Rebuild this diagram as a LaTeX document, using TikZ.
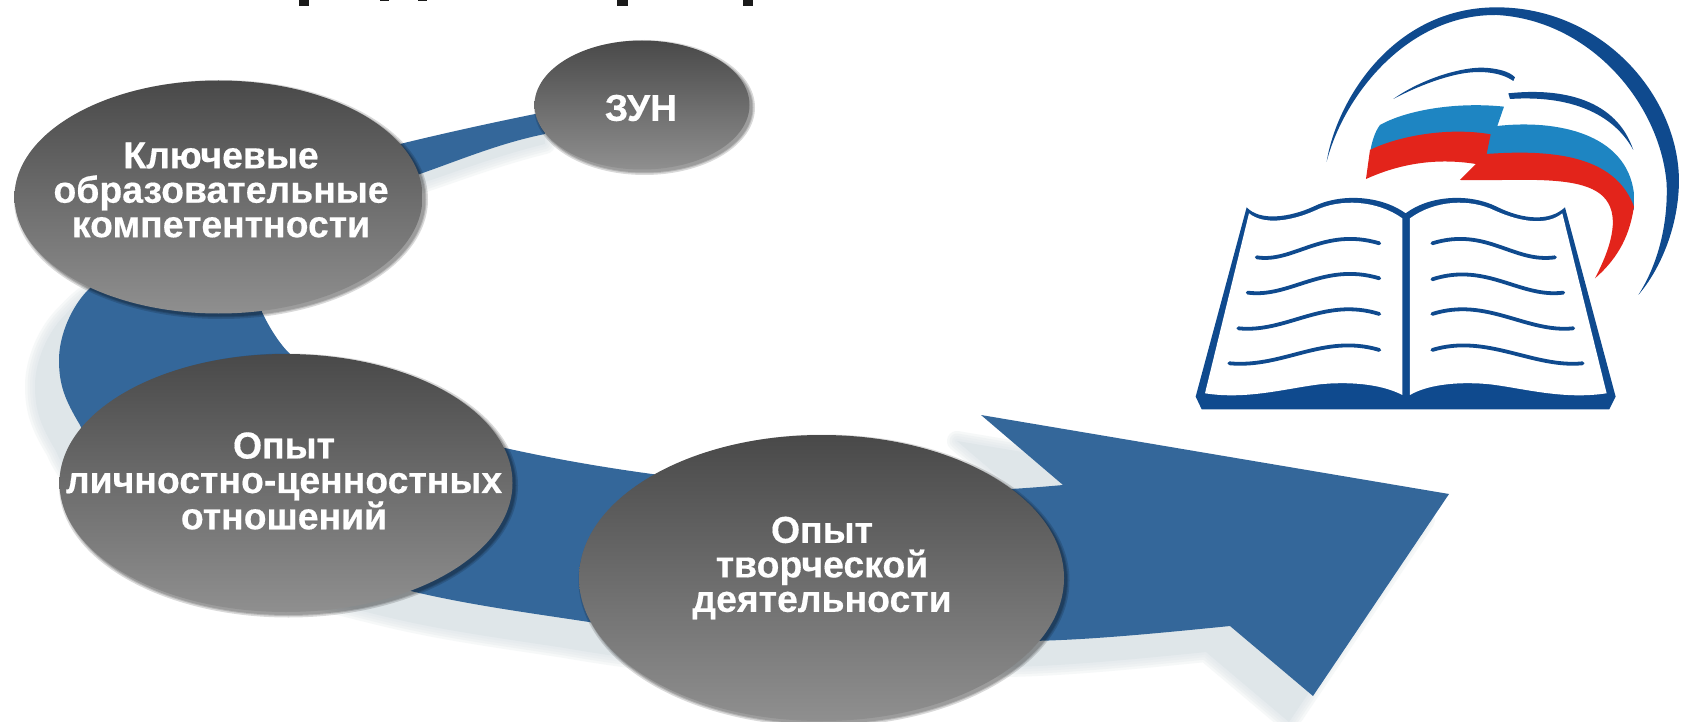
\documentclass[tikz,border=0pt]{standalone}
\usepackage{fontspec}
\setmainfont[BoldFeatures={FakeBold=0.4}]{Liberation Sans}
\usetikzlibrary{shapes.geometric}
\definecolor{arrowblue}{HTML}{34679A}
\definecolor{arrowshade}{HTML}{DFE6E9}
\definecolor{logoblue}{HTML}{0F4A8E}
\definecolor{flagblue}{HTML}{1E85C2}
\definecolor{flagred}{HTML}{E3241B}
\definecolor{ovaltop}{HTML}{494949}
\definecolor{ovalbot}{HTML}{8F8F8F}
\definecolor{titleink}{HTML}{1A1A1A}
\tikzset{
  oval/.style={ellipse,inner sep=0pt,outer sep=0pt,top color=ovaltop,bottom color=ovalbot,draw=none},
  ovalshade/.style={ellipse,inner sep=0pt,outer sep=0pt,fill=black,fill opacity=.15,draw=none},
  ovaltext/.style={text=white,align=center,inner sep=0pt,font=\bfseries\fontsize{37.4}{34.5}\selectfont},
  logoline/.style={draw=logoblue,line width=3.8pt,line cap=round},
  logofill/.style={fill=logoblue,draw=none},
  stub/.style={fill=titleink,draw=none}
}
\def\arrowmid{(262,312)
  .. controls (268,325) and (278,342) .. (289,353)
  .. controls (340,400) and (430,432) .. (505,448)
  .. controls (640,478) and (850,505) .. (1063,485)
  -- (981,415) -- (1449,494) -- (1313,696) -- (1230,626)
  .. controls (1160,633) and (1090,640) .. (1030,641)
  .. controls (850,650) and (720,645) .. (589,622)
  .. controls (530,613) and (470,605) .. (415,592)
  .. controls (280,560) and (115,510) .. (80,425)
  .. controls (65,400) and (59,385) .. (59,360)
  .. controls (59,335) and (72,305) .. (90,288)}
\def\arrowpath{(545,112) .. controls (495,122) and (445,133) .. (400,144)
  .. controls (330,165) and (245,225) .. \arrowmid
  .. controls (150,220) and (290,205) .. (417,175)
  .. controls (460,160) and (500,143) .. (545,134) -- cycle}
% the shadow narrows along the thin tail of the arrow
\def\shadowpath{(569,100) .. controls (495,122) and (445,133) .. (400,144)
  .. controls (330,165) and (245,225) .. \arrowmid
  .. controls (150,220) and (300,195) .. (437,160)
  .. controls (480,146) and (520,130) .. (569,118) -- cycle}
% draws the soft shadow and the gradient oval: #1 name, #2 x, #3 y, #4 rx, #5 ry
\newcommand{\ovalnode}[5]{%
  \foreach \g in {6,3,1}{
    \node[ovalshade,minimum width=2*#4+\g*1pt,minimum height=2*#5+\g*1pt] at (#2+2.5,#3+2.5) {};
  }
  \node[oval,minimum width=2*#4*1pt,minimum height=2*#5*1pt] (#1) at (#2,#3) {};
}
\begin{document}
\begin{tikzpicture}[x=1pt,y=-1pt]
\path[use as bounding box,fill=white] (0,0) rectangle (1687,722);

% cut-off title at the top edge
\fill[stub] (299,0) rectangle (309,6);
\fill[stub] (380,0) rectangle (389,1.5);
\fill[stub] (418,0) rectangle (427,1.5);
\fill[stub] (617,0) rectangle (628,6);
\fill[stub] (743,0) rectangle (753,6);

% arrow shadow
\begin{scope}[shift={(-24,26)}]
  \foreach \w in {20,15,10,5}{
    \draw[arrowshade,line width=\w pt,line join=round,opacity=.28] \shadowpath;
  }
  \fill[arrowshade] \shadowpath;
\end{scope}
% arrow
\fill[arrowblue] \arrowpath;

% ovals
\ovalnode{zun}{642}{105}{107.5}{64.5}
\ovalnode{key}{218.5}{197}{204}{116.5}
\ovalnode{lich}{286}{483}{226.5}{129}
\ovalnode{tvor}{821.5}{578}{242.5}{143}
\node[ovaltext] (zunt) at (641,108) {ЗУН};
\node[ovaltext] (keyt) at (221,190) {Ключевые\\образовательные\\компетентности};
\node[ovaltext] (licht) at (284,481) {Опыт\\личностно-ценностных\\отношений};
\node[ovaltext] (tvort) at (822,568) {Опыт\\творческой\\деятельности};

% logo
\begin{scope}[shift={(1180,0)},x=.3333pt,y=-.3333pt]
  % outer crescent
  \fill[logoblue] (440,485) .. controls (470,300) and (640,22) .. (950,22)
    .. controls (1270,22) and (1495,290) .. (1497,540)
    .. controls (1497,680) and (1440,810) .. (1375,885)
    .. controls (1430,800) and (1465,680) .. (1460,550)
    .. controls (1440,310) and (1230,60) .. (950,45)
    .. controls (680,42) and (490,290) .. (440,485) -- cycle;
  % small streaks
  \fill[logoblue] (640,297) .. controls (720,240) and (830,205) .. (900,203)
    .. controls (950,203) and (990,215) .. (1005,232) -- (1000,243)
    .. controls (960,215) and (900,212) .. (850,220)
    .. controls (780,232) and (700,265) .. (640,297) -- cycle;
  \fill[logoblue] (985,280) .. controls (1150,262) and (1310,300) .. (1360,450)
    .. controls (1300,340) and (1170,285) .. (990,297) -- cycle;
  % flag
  \fill[flagblue] (570,460) .. controls (575,425) and (585,395) .. (600,375)
    .. controls (680,330) and (830,305) .. (972,320) -- (952,378)
    .. controls (1130,358) and (1340,400) .. (1362,580) -- (1362,630) -- (1200,500) -- (900,480) -- (700,440) -- cycle;
  \fill[flagred] (558,537) -- (570,450) .. controls (650,410) and (800,380) .. (932,403)
    -- (920,462) .. controls (1150,445) and (1310,480) .. (1362,620)
    .. controls (1350,700) and (1320,770) .. (1245,835)
    .. controls (1300,730) and (1320,640) .. (1270,590)
    .. controls (1200,520) and (1000,545) .. (840,540)
    -- (888,492) .. controls (750,470) and (640,500) .. (558,537) -- cycle;
  % book page outline and base
  \fill[logoblue] (200,622) .. controls (240,665) and (330,652) .. (400,620)
    .. controls (480,580) and (600,585) .. (677,640)
    .. controls (750,585) and (870,580) .. (950,620)
    .. controls (1030,660) and (1110,665) .. (1155,622)
    -- (1307,1190) -- (1288,1228) -- (65,1228) -- (47,1190) -- cycle;
  \fill[white] (207,640) .. controls (250,675) and (330,665) .. (405,632)
    .. controls (480,595) and (590,600) .. (667,655)
    -- (667,1185) .. controls (600,1150) and (500,1145) .. (420,1153)
    .. controls (320,1165) and (200,1200) .. (75,1180) -- cycle;
  \fill[white] (1147,640) .. controls (1105,675) and (1030,670) .. (945,632)
    .. controls (870,595) and (765,600) .. (690,655)
    -- (690,1185) .. controls (750,1150) and (850,1145) .. (930,1153)
    .. controls (1030,1165) and (1150,1200) .. (1280,1180) -- cycle;
  % text lines
  \draw[logoline] (230,772) .. controls (340,790) and (430,680) .. (598,730);
  \draw[logoline] (203,878) .. controls (330,895) and (430,785) .. (598,835);
  \draw[logoline] (175,985) .. controls (320,1000) and (430,890) .. (598,942);
  \draw[logoline] (148,1090) .. controls (310,1105) and (430,1000) .. (598,1050);
  \draw[logoline] (757,730) .. controls (920,680) and (1000,790) .. (1125,772);
  \draw[logoline] (757,838) .. controls (920,785) and (1020,895) .. (1150,878);
  \draw[logoline] (757,942) .. controls (920,890) and (1040,1000) .. (1180,985);
  \draw[logoline] (757,1050) .. controls (920,1000) and (1060,1105) .. (1208,1090);
\end{scope}
\end{tikzpicture}
\end{document}
